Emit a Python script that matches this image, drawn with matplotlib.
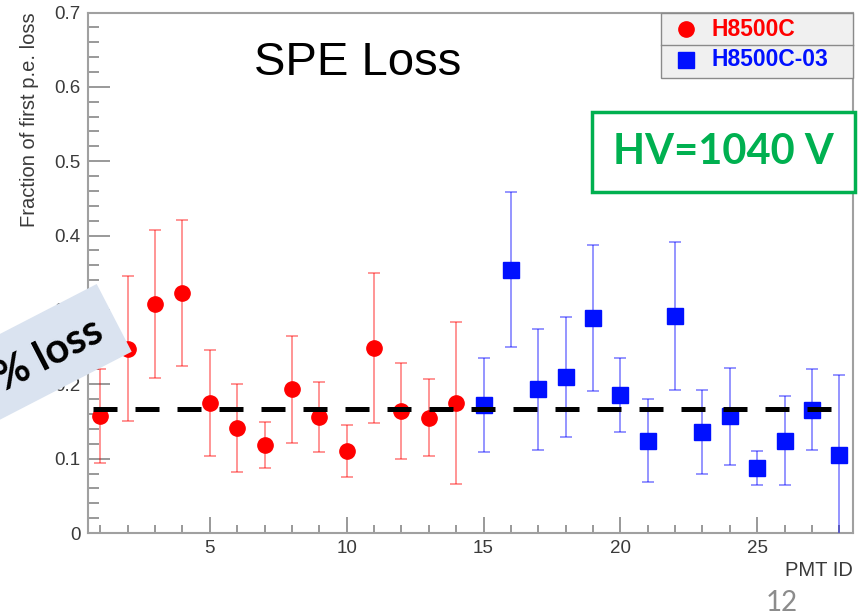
import matplotlib
matplotlib.use('Agg')
import matplotlib.pyplot as plt
import numpy as np
from matplotlib.patches import Rectangle, Polygon
from matplotlib.ticker import MultipleLocator, FuncFormatter

plt.rcParams['font.family'] = ['Liberation Sans', 'DejaVu Sans']

# PMT ID, fraction of first p.e. loss and its error, per tube type
pmt_old = [1, 2, 3, 4, 5, 6, 7, 8, 9, 10, 11, 12, 13, 14]
loss_old = [0.157, 0.248, 0.308, 0.323, 0.175, 0.141, 0.118, 0.193, 0.156, 0.110, 0.249, 0.164, 0.155, 0.175]
err_old = [0.063, 0.097, 0.100, 0.098, 0.071, 0.059, 0.031, 0.072, 0.047, 0.035, 0.101, 0.064, 0.052, 0.109]

pmt_new = [15, 16, 17, 18, 19, 20, 21, 22, 23, 24, 25, 26, 27, 28]
loss_new = [0.172, 0.354, 0.193, 0.210, 0.289, 0.186, 0.124, 0.292, 0.136, 0.157, 0.087, 0.124, 0.166, 0.105]
err_new = [0.063, 0.104, 0.082, 0.081, 0.098, 0.050, 0.056, 0.100, 0.056, 0.065, 0.023, 0.060, 0.055, 0.108]

series_labels = ['H8500C', 'H8500C-03']
avg_loss = 0.1665
avg_span = [0.75, 27.69]

W, H = 859, 616
fx = lambda px: px / W
fy = lambda py: 1 - py / H

fig = plt.figure(figsize=(W / 100, H / 100), dpi=100)
ax = fig.add_axes([fx(88), fy(533), fx(853) - fx(88), fy(12.5) - fy(533)])

# data
ax.errorbar(pmt_old, loss_old, yerr=err_old, fmt='o', color='#ff0000', ms=11,
            ecolor=(1, 0, 0, 0.45), elinewidth=1.3, capsize=4, capthick=1.3, zorder=3)
ax.errorbar(pmt_new, loss_new, yerr=err_new, fmt='s', color='#0010ff', ms=12,
            ecolor=(0, 0, 1, 0.45), elinewidth=1.3, capsize=4, capthick=1.3, zorder=3)

# average line drawn on the slide
ax.plot(avg_span, [avg_loss, avg_loss], color='black', lw=3.6, dashes=(4.8, 3.6), zorder=5)

ax.set_xlim(0.55, 28.5)
ax.set_ylim(0, 0.7)
ax.xaxis.set_major_locator(MultipleLocator(5))
ax.xaxis.set_minor_locator(MultipleLocator(1))
ax.yaxis.set_major_locator(MultipleLocator(0.1))
ax.yaxis.set_minor_locator(MultipleLocator(0.02))
ax.yaxis.set_major_formatter(FuncFormatter(lambda v, p: '%g' % round(v, 2)))

for s in ax.spines.values():
    s.set_color('#a0a0a0')
    s.set_linewidth(1.5)
ax.tick_params(axis='y', which='major', direction='in', length=15.8, width=1.2, color='#888888',
               labelsize=13.5, labelcolor='#3a3a3a', pad=5.5)
ax.tick_params(axis='y', which='minor', direction='in', length=7.9, width=1.2, color='#888888')
ax.tick_params(axis='x', which='major', direction='in', length=11.5, width=1.2, color='#888888',
               labelsize=13.5, labelcolor='#3a3a3a', pad=5)
ax.tick_params(axis='x', which='minor', direction='in', length=5.8, width=1.2, color='#888888')

fig.text(fx(29.5), fy(12), 'Fraction of first p.e. loss', rotation=90, ha='center', va='top',
         fontsize=14.5, color='#3a3a3a')
fig.text(fx(853), fy(570), 'PMT ID', ha='right', va='center', fontsize=14.5, color='#3a3a3a')
fig.text(fx(358), fy(63), 'SPE Loss', ha='center', va='center', fontsize=34, color='black')

# legend boxes
ax.add_patch(Rectangle((0.749, 0.874), 0.251, 0.126, transform=ax.transAxes, facecolor='#f0f0f0',
                       edgecolor='#8a8a8a', lw=1, clip_on=False, zorder=6))
ax.plot([0.749, 1.0], [0.9375, 0.9375], transform=ax.transAxes, color='#8a8a8a', lw=1,
        clip_on=False, zorder=7)
ax.plot([0.7817], [0.968], 'o', color='#ff0000', ms=11, transform=ax.transAxes, clip_on=False, zorder=7)
ax.plot([0.7817], [0.909], 's', color='#0010ff', ms=11, transform=ax.transAxes, clip_on=False, zorder=7)
ax.text(0.8144, 0.968, series_labels[0], transform=ax.transAxes, color='#ff0000', fontsize=16.5,
        fontweight='bold', ha='left', va='center', zorder=7)
ax.text(0.8144, 0.909, series_labels[1], transform=ax.transAxes, color='#0010ff', fontsize=16.5,
        fontweight='bold', ha='left', va='center', zorder=7)

# HV box
fig.patches.append(Rectangle((fx(591.7), fy(191.7)), fx(855) - fx(591.7), fy(111.7) - fy(191.7),
                             transform=fig.transFigure, facecolor='white', edgecolor='#00b050',
                             lw=2.5, zorder=8))
fig.text(fx(723.3), fy(152), 'HV=1040 V', ha='center', va='center', fontsize=30, fontweight='bold',
         color='#00b050', family=['Lato', 'DejaVu Sans'], zorder=9)

# rotated banner
ang = np.deg2rad(27.3)
u = np.array([-np.cos(ang), np.sin(ang)])
tr = np.array([96.7, 284.0])
br = np.array([131.7, 351.7])
L = 320
corners = [tr, br, br + L * u, tr + L * u]
fig.patches.append(Polygon([(fx(c[0]), fy(c[1])) for c in corners], closed=True,
                           transform=fig.transFigure, facecolor='#dae3f0', edgecolor='none', zorder=8))
fig.text(fx(100), fy(329), '17% loss', rotation=27.3, rotation_mode='anchor', ha='right', va='center',
         fontsize=30, fontweight='bold', color='black', family=['Lato', 'DejaVu Sans'], zorder=9)

fig.text(fx(782), fy(603), '12', ha='center', va='center', fontsize=20, color='#8c8c8c',
         family=['Lato', 'DejaVu Sans'])

fig.savefig('out.png', dpi=100)
